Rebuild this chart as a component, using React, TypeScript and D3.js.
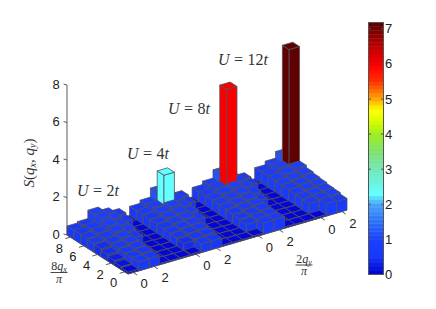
import React from "react";
import * as d3 from "d3";

// S(q_x,q_y): rows run from q_x index 8 (back) down to 0 (front), columns run along q_y
const panelU2 = [
  [0.48, 0.55, 1.0, 0.8, 0.6, 0.07],
  [0.5, 0.62, 1.0, 0.8, 0.5, 0.07],
  [0.5, 0.62, 0.85, 0.7, 0.1, 0.07],
  [0.46, 0.58, 0.75, 0.6, 0.09, 0.07],
  [0.42, 0.55, 0.68, 0.5, 0.08, 0.06],
  [0.34, 0.52, 0.62, 0.12, 0.08, 0.06],
  [0.25, 0.48, 0.58, 0.09, 0.07, 0.05],
  [0.16, 0.46, 0.55, 0.08, 0.06, 0.05],
  [0.1, 0.48, 0.5, 0.07, 0.05, 0.05],
];
const panelU4 = [
  [0.55, 0.72, 1.2, 0.78, 0.58, 0.07],
  [0.58, 0.78, 2.35, 0.82, 0.5, 0.07],
  [0.56, 0.72, 0.88, 0.72, 0.1, 0.07],
  [0.54, 0.68, 0.78, 0.62, 0.09, 0.07],
  [0.52, 0.64, 0.7, 0.5, 0.08, 0.06],
  [0.5, 0.6, 0.64, 0.12, 0.08, 0.06],
  [0.48, 0.56, 0.6, 0.09, 0.07, 0.05],
  [0.42, 0.5, 0.54, 0.08, 0.06, 0.05],
  [0.08, 0.46, 0.46, 0.07, 0.05, 0.05],
];
const panelU8 = [
  [0.58, 0.76, 1.2, 0.78, 0.56, 0.07],
  [0.62, 0.82, 5.95, 0.86, 0.5, 0.07],
  [0.62, 0.78, 0.92, 0.76, 0.1, 0.07],
  [0.6, 0.72, 0.82, 0.66, 0.09, 0.07],
  [0.58, 0.68, 0.75, 0.52, 0.08, 0.06],
  [0.54, 0.64, 0.7, 0.12, 0.08, 0.06],
  [0.5, 0.6, 0.66, 0.09, 0.07, 0.05],
  [0.46, 0.58, 0.63, 0.08, 0.06, 0.05],
  [0.08, 0.6, 0.62, 0.07, 0.05, 0.05],
];
const panelU12 = [
  [0.66, 0.85, 1.2],
  [0.7, 0.95, 7.1],
  [0.7, 0.85, 1.0],
  [0.68, 0.8, 0.88],
  [0.66, 0.76, 0.82],
  [0.64, 0.72, 0.78],
  [0.62, 0.68, 0.72],
  [0.6, 0.66, 0.7],
  [0.08, 0.66, 0.62],
];
const zTicks = [0, 2, 4, 6, 8];
const rowTicks = [0, 2, 4, 6, 8];
const colTicks = [0, 2, 6, 8, 12, 14, 18, 20];
const colTickLabels = ["0", "2", "0", "2", "0", "2", "0", "2"];
const barTicks = [0, 1, 2, 3, 4, 5, 6, 7];
const colorValues = [0, 0.5, 1, 1.5, 2, 2.3, 3, 3.5, 4, 4.35, 4.7, 5, 5.5, 5.95, 6.5, 7.18];
const colorStops = [
  "#0000d0", "#1838f8", "#1c40ff", "#2c70fa", "#48a4f8", "#64ffff", "#70e8b8", "#80e070",
  "#9cf020", "#d8fa00", "#ffff00", "#ffa800", "#ff3000", "#ff0000", "#c00000", "#580000",
];

const rows = 9;
const cols = 21;
const matrix = panelU2.map((r, i) => [...r, ...panelU4[i], ...panelU8[i], ...panelU12[i]]);

const baseX = 128, baseY = 274;
const colX = d3.scaleLinear().domain([0, cols]).range([0, 219]);
const colY = d3.scaleLinear().domain([0, cols]).range([0, -64]);
const rowX = d3.scaleLinear().domain([0, rows]).range([0, -61]);
const rowY = d3.scaleLinear().domain([0, rows]).range([0, -39]);
const zPx = d3.scaleLinear().domain([0, 8]).range([0, -150]);
const project = (r: number, c: number, z = 0): [number, number] => [
  baseX + colX(c) + rowX(r),
  baseY + colY(c) + rowY(r) + zPx(z),
];
const smooth = d3.scaleLinear<string>().domain(colorValues).range(colorStops).interpolate(d3.interpolateRgb);
const maxV = 7.18;
const levels = 64;
const quant = (v: number) => smooth(((Math.min(levels - 1, Math.floor((v / maxV) * levels)) + 0.5) / levels) * maxV);
const poly = d3.line();
const cbY = d3.scaleLinear().domain([0, maxV]).range([274.5, 22.5]);

const serif = "'Liberation Serif', serif";
const sans = "'Liberation Sans', Arial, sans-serif";

function ULabel({ x, y, n }: { x: number; y: number; n: string }) {
  return (
    <text x={x} y={y} fontFamily={serif} fontSize={16} fill="#333" xmlSpace="preserve">
      <tspan fontStyle="italic">U</tspan>
      <tspan dx={4.5}>=</tspan>
      <tspan dx={4.5}>{n}</tspan>
      <tspan fontStyle="italic">t</tspan>
    </text>
  );
}

function Frac({ x, num, sub, lineY }: { x: number; num: string; sub: string; lineY: number }) {
  return (
    <g fontFamily={serif} fill="#333" textAnchor="middle">
      <text x={x} y={lineY - 2.5} fontSize={12}>
        {num}
        <tspan fontStyle="italic">q</tspan>
        <tspan fontStyle="italic" fontSize={8} dy={2}>{sub}</tspan>
      </text>
      <line x1={x - 8.5} x2={x + 8.5} y1={lineY} y2={lineY} stroke="#333" strokeWidth={0.9} />
      <text x={x} y={lineY + 10} fontSize={12} fontStyle="italic">π</text>
    </g>
  );
}

export default function App() {
  const bars: React.ReactNode[] = [];
  for (let r = rows - 1; r >= 0; r--) {
    for (let c = cols - 1; c >= 0; c--) {
      const z = matrix[rows - 1 - r][c];
      const fill = quant(z);
      const left = [project(r, c), project(r + 1, c), project(r + 1, c, z), project(r, c, z)];
      const right = [project(r, c), project(r, c + 1), project(r, c + 1, z), project(r, c, z)];
      const top = [project(r, c, z), project(r + 1, c, z), project(r + 1, c + 1, z), project(r, c + 1, z)];
      bars.push(
        <g key={`${r}-${c}`} fill={fill} stroke="#50505e" strokeWidth={0.8} strokeLinejoin="round">
          <path d={poly(left as [number, number][]) + "Z"} />
          <path d={poly(right as [number, number][]) + "Z"} />
          <path d={poly(top as [number, number][]) + "Z"} />
        </g>
      );
    }
  }
  const cbBands = d3.range(levels);
  return (
    <svg
      width={436}
      height={309}
      viewBox="0 0 436 309"
      style={{ position: "absolute", left: 0, top: 0, background: "#fff" }}
    >
      {/* axes */}
      <g stroke="#5a5a5a" strokeWidth={1} fill="none">
        <path d={poly([project(rows, 0), project(rows, 0, 8)]) as string} />
        <path d={poly([project(rows, 0), project(0, 0), project(0, cols)]) as string} />
        {zTicks.map((t) => {
          const [x, y] = project(rows, 0, t);
          return <line key={t} x1={x} y1={y} x2={x - 3.5} y2={y - 1} />;
        })}
        {rowTicks.map((t) => {
          const [x, y] = project(t + 0.5, 0);
          return <line key={t} x1={x} y1={y} x2={x - 5} y2={y + 1.5} />;
        })}
        {colTicks.map((t) => {
          const [x, y] = project(0, t + 0.5);
          return <line key={t} x1={x} y1={y} x2={x + 4} y2={y + 2.6} />;
        })}
      </g>
      {bars}
      {/* tick labels */}
      <g fontFamily={sans} fontSize={13} fill="#222" textAnchor="middle" dominantBaseline="central">
        {zTicks.map((t) => (
          <text key={t} x={56} y={project(rows, 0, t)[1] - 1}>{t}</text>
        ))}
        {rowTicks.map((t) => {
          const [x, y] = project(t + 0.5, 0);
          return <text key={t} x={x - 11} y={y + 11}>{t}</text>;
        })}
        {colTicks.map((t, i) => {
          const [x, y] = project(0, t + 0.5);
          return <text key={t} x={x + 11} y={y + 11.5}>{colTickLabels[i]}</text>;
        })}
      </g>
      {/* annotations */}
      <ULabel x={77} y={196} n="2" />
      <ULabel x={127} y={159} n="4" />
      <ULabel x={168} y={114} n="8" />
      <ULabel x={218} y={65} n="12" />
      <text
        transform="translate(34,163) rotate(-90)"
        fontFamily={serif}
        fontSize={15}
        fill="#333"
        textAnchor="middle"
      >
        <tspan fontStyle="italic">S</tspan>(<tspan fontStyle="italic">q</tspan>
        <tspan fontStyle="italic" fontSize={10} dy={2}>x</tspan>
        <tspan dy={-2}>, </tspan>
        <tspan fontStyle="italic">q</tspan>
        <tspan fontStyle="italic" fontSize={10} dy={2}>y</tspan>
        <tspan dy={-2}>)</tspan>
      </text>
      <Frac x={59} num="8" sub="x" lineY={272.5} />
      <Frac x={304} num="2" sub="y" lineY={265} />
      {/* colorbar */}
      <g>
        {cbBands.map((i) => {
          const lo = (i / levels) * maxV;
          const hi = ((i + 1) / levels) * maxV;
          return (
            <rect
              key={i}
              x={368.5}
              width={15}
              y={cbY(hi)}
              height={cbY(lo) - cbY(hi) + 0.4}
              fill={quant((lo + hi) / 2)}
            />
          );
        })}
        <rect x={368.5} y={22.5} width={15} height={252} fill="none" stroke="#555" strokeWidth={1} />
        {barTicks.map((t) => (
          <g key={t} stroke="#555" strokeWidth={1}>
            <line x1={368.5} x2={371} y1={cbY(t)} y2={cbY(t)} />
            <line x1={381} x2={383.5} y1={cbY(t)} y2={cbY(t)} />
          </g>
        ))}
        {barTicks.map((t) => (
          <text key={t} x={385} y={cbY(t)} fontFamily={sans} fontSize={13} fill="#222" dominantBaseline="central">{t}</text>
        ))}
      </g>
    </svg>
  );
}
